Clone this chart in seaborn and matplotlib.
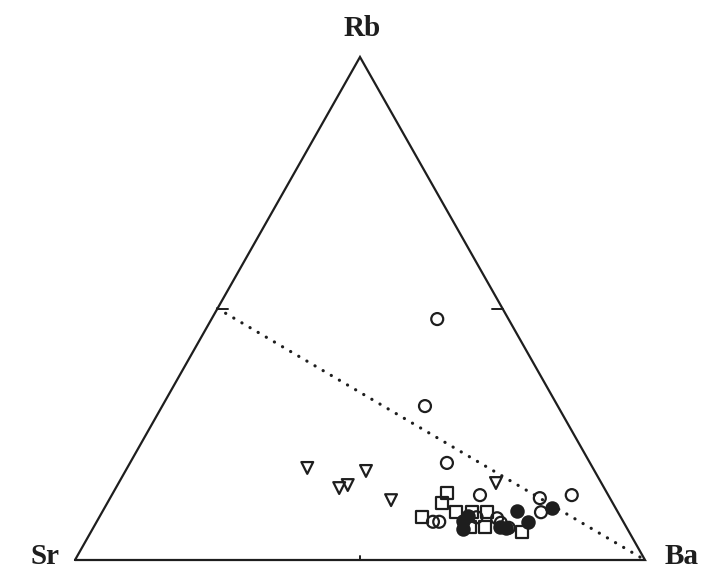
import numpy as np
import pandas as pd
import matplotlib
matplotlib.use("Agg")
import matplotlib.pyplot as plt
import seaborn as sns

# Rb-Sr-Ba compositions (fractions), one array per sample group
tri_rb = [0.183, 0.177, 0.143, 0.149, 0.119, 0.153]
tri_ba = [0.316, 0.422, 0.392, 0.404, 0.495, 0.662]

open_rb = [0.479, 0.306, 0.193, 0.129, 0.123, 0.129, 0.095, 0.076, 0.076,
           0.083, 0.074, 0.064, 0.085]
open_ba = [0.396, 0.461, 0.556, 0.646, 0.754, 0.807, 0.770, 0.590, 0.601,
           0.699, 0.710, 0.729, 0.662]

filled_rb = [0.097, 0.103, 0.076, 0.078, 0.062, 0.066, 0.064, 0.087]
filled_ba = [0.727, 0.785, 0.757, 0.642, 0.650, 0.713, 0.724, 0.646]

square_rb = [0.133, 0.113, 0.085, 0.095, 0.095, 0.095, 0.066, 0.056, 0.066]
square_ba = [0.586, 0.587, 0.566, 0.621, 0.649, 0.675, 0.686, 0.756, 0.660]

apex_labels = ["Sr", "Ba", "Rb"]

INK = "#1e1e1e"


def to_xy(rb, ba):
    """Ternary (Rb, Ba, Sr=1-Rb-Ba) -> cartesian, Sr at (0,0), Ba at (1,0), Rb on top."""
    rb = np.asarray(rb, float)
    ba = np.asarray(ba, float)
    return ba + rb / 2.0, rb


frames = []
for name, rb, ba in [("tri", tri_rb, tri_ba), ("open", open_rb, open_ba),
                     ("square", square_rb, square_ba), ("filled", filled_rb, filled_ba)]:
    x, y = to_xy(rb, ba)
    frames.append(pd.DataFrame({"x": x, "y": y, "group": name}))
df = pd.concat(frames, ignore_index=True)

sns.set_style("white")
fig = plt.figure(figsize=(7.10, 5.71), dpi=100)
ax = fig.add_axes([0, 0, 1, 1])
ax.set_xlim(-75 / 570, 635 / 570)
ax.set_ylim(-11 / 503, 560 / 503)
ax.axis("off")

# triangle frame
ax.plot([0, 1, 0.5, 0], [0, 0, 1, 0], color=INK, lw=1.6, solid_joinstyle="miter",
        zorder=2)

# mid-edge ticks
ax.plot([0.25, 0.268], [0.5, 0.5], color=INK, lw=1.4, zorder=2)
ax.plot([0.75, 0.732], [0.5, 0.5], color=INK, lw=1.4, zorder=2)
ax.plot([0.5, 0.5], [0, 0.008], color=INK, lw=1.4, zorder=2)

# Rb = Sr reference line from the Sr-Rb midpoint to the Ba apex
ax.plot([0.25, 1.0], [0.5, 0.0], color=INK, lw=2.3,
        linestyle=(0, (0.05, 2.9)), dash_capstyle="round", zorder=2)

styles = {
    "tri": dict(marker="v", s=72, fill=False),
    "square": dict(marker="s", s=70, fill=False),
    "open": dict(marker="o", s=74, fill=False),
    "filled": dict(marker="o", s=78, fill=True),
}
for name in ["tri", "square", "open", "filled"]:
    st = styles[name]
    sub = df[df["group"] == name]
    sns.scatterplot(data=sub, x="x", y="y", ax=ax, marker=st["marker"], s=st["s"],
                    color=INK, edgecolor=INK, linewidth=1.6, zorder=3, legend=False)
    if not st["fill"]:
        ax.collections[-1].set_facecolor("none")

font = dict(family="Liberation Serif", weight="bold", size=21, color=INK)
ax.text(-30 / 570, 4 / 503, apex_labels[0], ha="center", va="center", **font)
ax.text(607 / 570, 4 / 503, apex_labels[1], ha="center", va="center", **font)
ax.text(287 / 570, 531 / 503, apex_labels[2], ha="center", va="center", **font)

fig.savefig("out.png", dpi=100, facecolor="white")
